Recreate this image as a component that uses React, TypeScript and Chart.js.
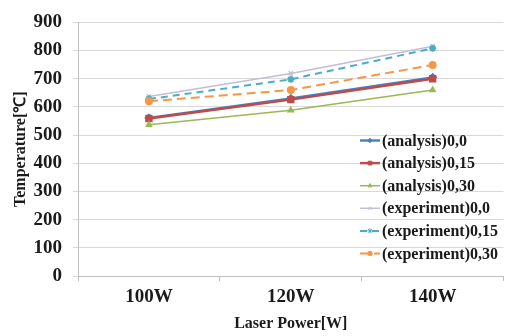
import React, { useEffect, useRef } from "react";
import { Chart, registerables } from "chart.js";
import { drawPoint } from "chart.js/helpers";

Chart.register(...registerables);

const categories = ["100W", "120W", "140W"];
const seriesNames = [
  "(analysis)0,0",
  "(analysis)0,15",
  "(analysis)0,30",
  "(experiment)0,0",
  "(experiment)0,15",
  "(experiment)0,30",
];
const analysis00 = [561, 630, 705];
const analysis015 = [559, 626, 700];
const analysis030 = [537, 588, 660];
const experiment00 = [637, 719, 815];
const experiment015 = [628, 698, 808];
const experiment030 = [620, 660, 749];
const yTicks = [0, 100, 200, 300, 400, 500, 600, 700, 800, 900];

const FONT = "'Liberation Serif', 'Times New Roman', serif";

const legendPlugin = {
  id: "insideLegend",
  afterDraw(chart: any) {
    const ctx = chart.ctx;
    const ds = chart.data.datasets;
    const x0 = 360;
    const y0 = 140.5;
    const step = 22.6;
    ctx.save();
    ds.forEach((d: any, i: number) => {
      const y = y0 + i * step;
      ctx.save();
      ctx.strokeStyle = d.borderColor;
      ctx.lineWidth = d.borderWidth;
      ctx.setLineDash(d.borderDash || []);
      ctx.beginPath();
      ctx.moveTo(x0, y);
      ctx.lineTo(x0 + 20, y);
      ctx.stroke();
      ctx.restore();
      ctx.save();
      ctx.fillStyle = d.pointBackgroundColor;
      ctx.strokeStyle = d.pointBorderColor;
      ctx.lineWidth = 1;
      drawPoint(
        ctx,
        { pointStyle: d.pointStyle, radius: d.pointRadius * 0.75, rotation: 0, borderWidth: 1 },
        x0 + 10,
        y
      );
      ctx.restore();
      ctx.fillStyle = "#1a1a1a";
      ctx.font = `bold 16px ${FONT}`;
      ctx.textBaseline = "middle";
      ctx.textAlign = "left";
      ctx.fillText(d.label, x0 + 22, y + 1);
    });
    ctx.restore();
  },
};

const bgPlugin = {
  id: "bg",
  beforeDraw(chart: any) {
    const ctx = chart.ctx;
    ctx.save();
    ctx.fillStyle = "#ffffff";
    ctx.fillRect(0, 0, chart.width, chart.height);
    ctx.restore();
  },
};

export default function App() {
  const ref = useRef<HTMLCanvasElement>(null);
  useEffect(() => {
    document.body.style.margin = "0";
    const mk = (
      label: string,
      data: number[],
      color: string,
      style: string,
      radius: number,
      width: number,
      dash: number[],
      order: number
    ) => ({
      label,
      data,
      borderColor: color,
      backgroundColor: color,
      pointBackgroundColor: color,
      pointBorderColor: color,
      pointStyle: style,
      pointRadius: radius,
      borderWidth: width,
      borderDash: dash,
      tension: 0,
      order,
    });
    const chart = new Chart(ref.current!, {
      type: "line",
      data: {
        labels: categories,
        datasets: [
          mk(seriesNames[0], analysis00, "#4a7ebb", "rectRot", 3, 2.4, [], 6),
          mk(seriesNames[1], analysis015, "#be4b48", "rect", 3.5, 2.4, [], 5),
          mk(seriesNames[2], analysis030, "#98b954", "triangle", 3, 1.5, [], 4),
          mk(seriesNames[3], experiment00, "#c3bdd9", "crossRot", 3, 1.5, [], 3),
          mk(seriesNames[4], experiment015, "#4bacc6", "star", 3.5, 2, [7, 5], 2),
          mk(seriesNames[5], experiment030, "#f79646", "circle", 3, 2, [9, 5], 1),
        ],
      },
      options: {
        responsive: false,
        animation: false,
        layout: { padding: { top: 16, right: 0, left: 0, bottom: 0 } },
        plugins: {
          legend: { display: false },
          tooltip: { enabled: false },
        },
        scales: {
          x: {
            type: "category",
            offset: true,
            grid: {
              offset: true,
              drawOnChartArea: false,
              drawTicks: true,
              tickLength: 5,
              color: "#bfbfbf",
            },
            border: { color: "#bfbfbf" },
            ticks: {
              color: "#1a1a1a",
              font: { family: FONT, size: 19, weight: "bold" },
              padding: 5,
            },
            title: {
              display: true,
              text: "Laser Power[W]",
              color: "#1a1a1a",
              font: { family: FONT, size: 16, weight: "bold" },
              padding: { top: 0, bottom: 3 },
            },
            afterFit: (s: any) => {
              s.height = 60;
            },
          },
          y: {
            min: 0,
            max: 900,
            afterBuildTicks: (s: any) => {
              s.ticks = yTicks.map((v) => ({ value: v }));
            },
            grid: {
              color: "#d9d9d9",
              tickLength: 5,
              lineWidth: 1,
            },
            border: { color: "#bfbfbf" },
            ticks: {
              color: "#1a1a1a",
              font: { family: FONT, size: 19, weight: "bold" },
              padding: 11,
            },
            title: {
              display: true,
              text: "Temperature[℃]",
              color: "#1a1a1a",
              font: { family: FONT, size: 16, weight: "bold" },
              padding: { top: 11, bottom: 0 },
            },
            afterFit: (s: any) => {
              s.width = 78;
            },
          },
        },
      } as any,
      plugins: [bgPlugin, legendPlugin],
    });
    return () => chart.destroy();
  }, []);
  return <canvas ref={ref} width={510} height={336} style={{ display: "block" }} />;
}
